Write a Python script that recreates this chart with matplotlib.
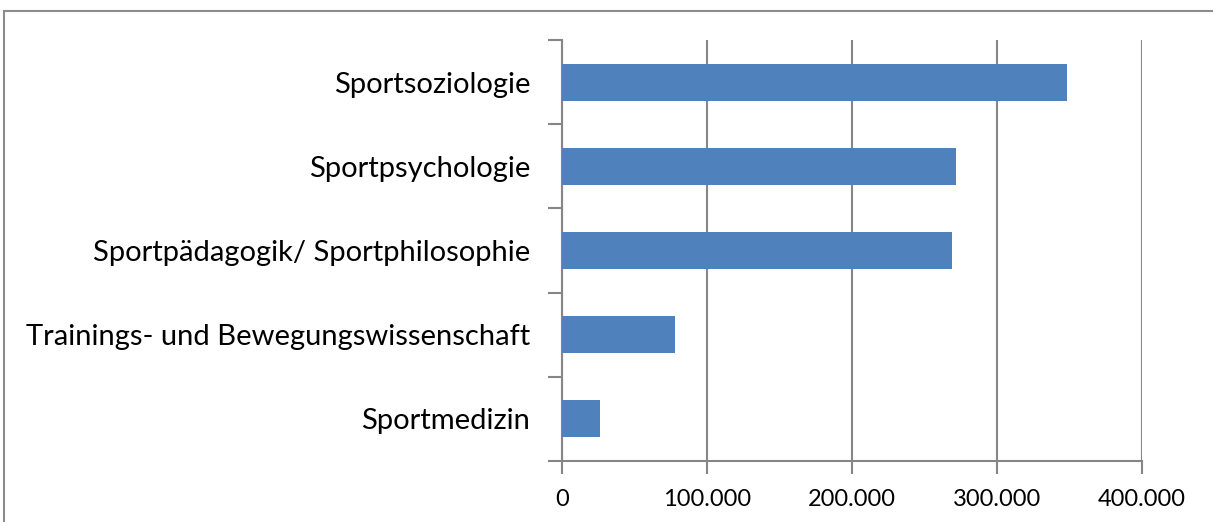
import matplotlib.pyplot as plt
from matplotlib.patches import Rectangle
from matplotlib.ticker import FuncFormatter

categories = ['Sportmedizin', 'Trainings- und Bewegungswissenschaft',
              'Sportpädagogik/ Sportphilosophie', 'Sportpsychologie', 'Sportsoziologie']
values = [26000, 78000, 269000, 271500, 348000]
x_ticks = [0, 100000, 200000, 300000, 400000]

plt.rcParams['font.family'] = ['Lato', 'DejaVu Sans']
grey = '#868686'

fig = plt.figure(figsize=(12.13, 5.22), dpi=100)
ax = fig.add_axes([562 / 1213, 1 - 461 / 522, 580 / 1213, 421 / 522])

ax.barh(range(len(categories)), values, height=0.44, color='#4F81BD', zorder=3)

ax.set_xlim(0, 400000)
ax.set_ylim(-0.5, len(categories) - 0.5)
ax.set_xticks(x_ticks)
ax.xaxis.set_major_formatter(FuncFormatter(lambda v, p: f"{int(v):,}".replace(',', '.')))
ax.set_yticks(range(len(categories)))
ax.set_yticklabels(categories)
ax.set_yticks([i - 0.5 for i in range(len(categories) + 1)], minor=True)

ax.grid(True, axis='x', color=grey, linewidth=1.5, zorder=0)
for side in ['top', 'right']:
    ax.spines[side].set_visible(False)
for side in ['left', 'bottom']:
    ax.spines[side].set_color(grey)
    ax.spines[side].set_linewidth(1.5)

ax.tick_params(axis='y', which='major', length=0, pad=23, labelsize=21)
ax.tick_params(axis='y', which='minor', length=10, width=1.5, color=grey)
ax.tick_params(axis='x', length=9, width=1.5, color=grey, pad=11, labelsize=17)

# outer chart border, cropped on right and bottom
fig.patches.append(Rectangle((3.5 / 1213, -0.1), 1.2, 1 - 10.5 / 522 + 0.1,
                             transform=fig.transFigure, fill=False,
                             edgecolor='#8c8c8c', linewidth=1.5))

fig.savefig('out.png', dpi=100)
